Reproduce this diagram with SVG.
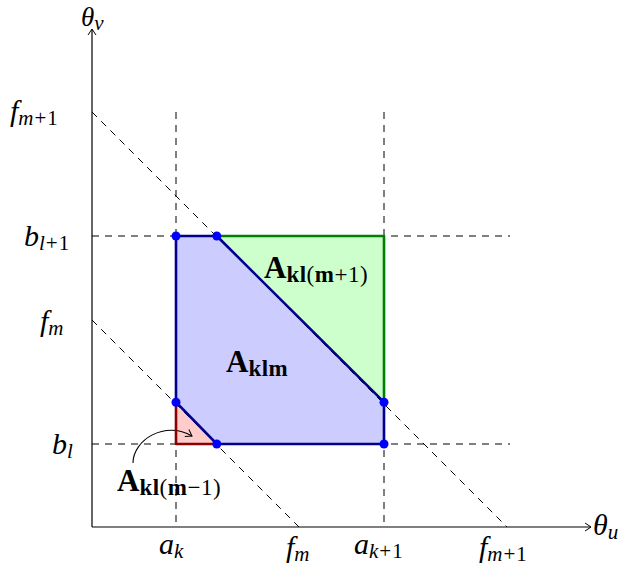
<svg xmlns="http://www.w3.org/2000/svg" width="621" height="569" viewBox="0 0 621 569">
<style>
.m{font-family:"Liberation Serif","DejaVu Serif",serif;font-style:italic;font-size:30px;fill:#000}
.t{font-size:27px}
.s{font-size:21px;letter-spacing:1px}
.u{font-style:normal}
.b{font-family:"Liberation Serif","DejaVu Serif",serif;font-weight:bold;font-size:31px;fill:#000}
.bs{font-size:23px;letter-spacing:0.5px}
.n{font-weight:normal}
.dash{stroke:#000;stroke-width:1;stroke-dasharray:7,6;fill:none}
.dot{fill:#0000ff}
</style>
<defs>
<marker id="ah" markerWidth="10" markerHeight="10" refX="8" refY="5" orient="auto" markerUnits="userSpaceOnUse">
<path d="M2,1 L8,5 L2,9" fill="none" stroke="#000" stroke-width="1"/>
</marker>
</defs>
<g id="regions">
<polygon id="red" points="176,444 176,402.2 216.8,444" fill="#ffcccc"/>
<polygon id="blue" points="176,402.2 176,236 216.8,236 384,402.2 384,444 216.8,444" fill="#ccccff"/>
<polygon id="green" points="216.8,236 384,236 384,402.2" fill="#ccffcc"/>
</g>
<g id="connectors">
<line class="dash" x1="176" y1="112" x2="176" y2="527"/>
<line class="dash" x1="384" y1="112" x2="384" y2="527"/>
<line class="dash" x1="92" y1="236" x2="510" y2="236"/>
<line class="dash" x1="92" y1="444" x2="510" y2="444"/>
<line class="dash" x1="92" y1="112" x2="507" y2="527"/>
<line class="dash" x1="92" y1="320" x2="299" y2="527"/>
<line x1="92" y1="527" x2="92" y2="29" stroke="#000" stroke-width="1.2" marker-end="url(#ah)"/>
<line x1="92" y1="527" x2="591" y2="527" stroke="#000" stroke-width="1.2" marker-end="url(#ah)"/>
<path d="M133,463 C133,440 165,420 192,436" fill="none" stroke="#000" stroke-width="1.1" marker-end="url(#ah)"/>
</g>
<g id="edges" fill="none" stroke-width="2.6" stroke-linejoin="round">
<polyline points="176,402.2 176,444 216.8,444" stroke="#8b0000"/>
<polyline points="216.8,236 384,236 384,402.2" stroke="#008000"/>
<polygon points="176,402.2 176,236 216.8,236 384,402.2 384,444 216.8,444" stroke="#00008b"/>
</g>
<g id="points">
<circle class="dot" cx="176" cy="236" r="4.5"/>
<circle class="dot" cx="216.8" cy="236" r="4.5"/>
<circle class="dot" cx="176" cy="402.2" r="4.5"/>
<circle class="dot" cx="216.8" cy="444" r="4.5"/>
<circle class="dot" cx="384" cy="402.2" r="4.5"/>
<circle class="dot" cx="384" cy="444" r="4.5"/>
</g>
<g id="labels">
<text class="m t" x="81" y="26">θ<tspan class="s" dy="4">v</tspan></text>
<text class="m" x="593" y="535">θ<tspan class="s" dy="4">u</tspan></text>
<text class="m" x="10" y="121">f<tspan class="s" dy="4">m<tspan class="u">+1</tspan></tspan></text>
<text class="m" x="24" y="246">b<tspan class="s" dy="4">l<tspan class="u">+1</tspan></tspan></text>
<text class="m" x="40" y="331">f<tspan class="s" dy="4">m</tspan></text>
<text class="m" x="52" y="454">b<tspan class="s" dy="4">l</tspan></text>
<text class="m" x="159" y="554">a<tspan class="s" dy="4">k</tspan></text>
<text class="m" x="286" y="557">f<tspan class="s" dy="4">m</tspan></text>
<text class="m" x="354" y="554">a<tspan class="s" dy="4">k<tspan class="u">+1</tspan></tspan></text>
<text class="m" x="479" y="557">f<tspan class="s" dy="4">m<tspan class="u">+1</tspan></tspan></text>
</g>
<g id="A_klm"><text class="b" x="226" y="372">A<tspan class="bs" dy="4">klm</tspan></text></g>
<g id="A_klm1"><text class="b" x="264" y="278">A<tspan class="bs" dy="4">kl<tspan class="n">(</tspan>m<tspan class="n">+1)</tspan></tspan></text></g>
<g id="A_klm_1"><text class="b" x="117" y="491">A<tspan class="bs" dy="4">kl<tspan class="n">(</tspan>m<tspan class="n">−1)</tspan></tspan></text></g>
</svg>
